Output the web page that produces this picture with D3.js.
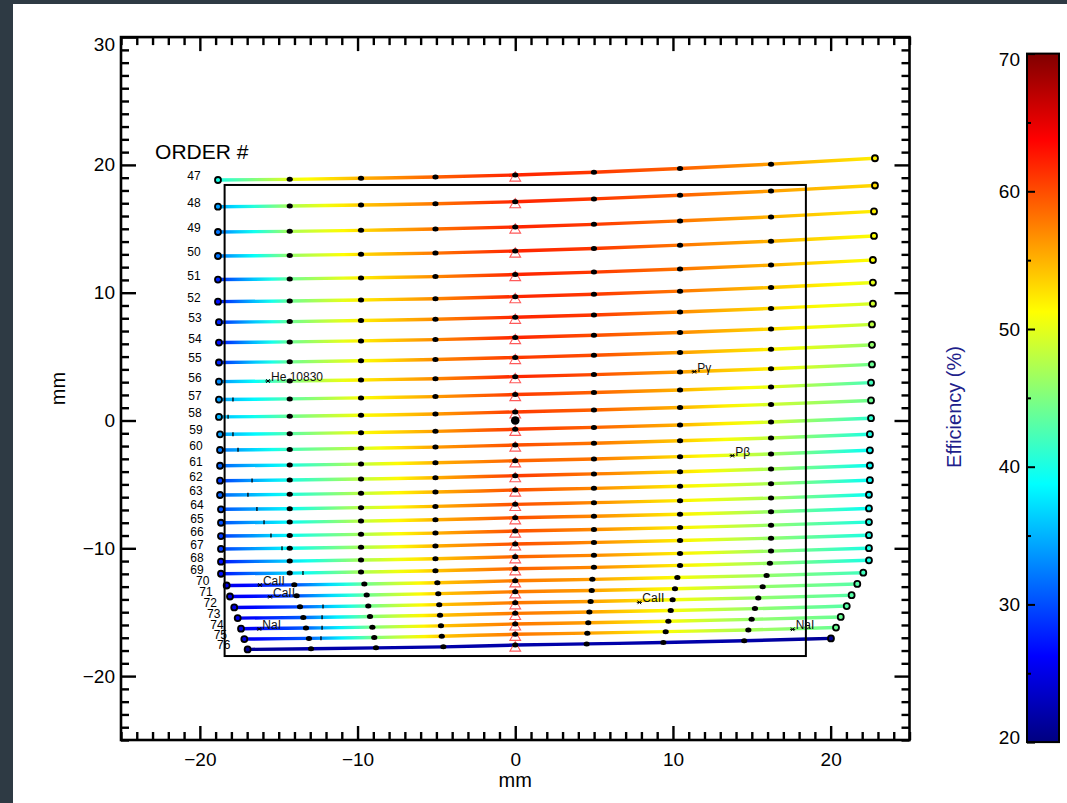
<!DOCTYPE html>
<html>
<head>
<meta charset="utf-8">
<script src="https://cdn.jsdelivr.net/npm/d3@7"></script>
<style>
body { margin: 0; background: #2e3a44; }
svg { display: block; font-family: "Liberation Sans", Arial, Helvetica, sans-serif; }
</style>
</head>
<body>
<svg id="chart" width="1067" height="803"></svg>
<script>
// Echelle orders
var orders = [47,48,49,50,51,52,53,54,55,56,57,58,59,60,61,62,63,64,65,66,67,68,69,70,71,72,73,74,75,76];

// x (mm) of the sampled points along each order
var dotX = [
  [-18.85,-14.30,-9.78,-5.06,0,4.99,10.45,16.22,22.81],
  [-18.85,-14.30,-9.78,-5.06,0,4.99,10.45,16.22,22.81],
  [-18.85,-14.30,-9.78,-5.06,0,4.99,10.45,16.22,22.75],
  [-18.85,-14.30,-9.78,-5.06,0,4.99,10.45,16.22,22.75],
  [-18.85,-14.30,-9.78,-5.06,0,4.99,10.45,16.22,22.68],
  [-18.85,-14.30,-9.78,-5.06,0,4.99,10.45,16.22,22.68],
  [-18.79,-14.30,-9.78,-5.06,0,4.99,10.45,16.22,22.68],
  [-18.79,-14.30,-9.78,-5.06,0,4.99,10.45,16.22,22.62],
  [-18.79,-14.30,-9.78,-5.06,0,4.99,10.45,16.22,22.62],
  [-18.79,-14.30,-9.78,-5.06,0,4.99,10.45,16.22,22.62],
  [-18.79,-14.30,-9.78,-5.06,0,4.99,10.45,16.22,22.56],
  [-18.79,-14.30,-9.78,-5.06,0,4.99,10.45,16.22,22.56],
  [-18.72,-14.30,-9.78,-5.06,0,4.99,10.45,16.22,22.56],
  [-18.72,-14.30,-9.78,-5.06,0,4.99,10.45,16.22,22.49],
  [-18.72,-14.30,-9.78,-5.06,0,4.99,10.45,16.22,22.49],
  [-18.72,-14.30,-9.78,-5.06,0,4.99,10.45,16.22,22.49],
  [-18.72,-14.30,-9.78,-5.06,0,4.99,10.45,16.22,22.49],
  [-18.66,-14.30,-9.78,-5.06,0,4.99,10.45,16.22,22.43],
  [-18.66,-14.30,-9.78,-5.06,0,4.99,10.45,16.22,22.43],
  [-18.66,-14.30,-9.78,-5.06,0,4.99,10.45,16.22,22.43],
  [-18.66,-14.30,-9.78,-5.06,0,4.99,10.45,16.22,22.43],
  [-18.66,-14.30,-9.78,-5.06,0,4.99,10.45,16.22,22.43],
  [-18.66,-14.30,-9.78,-5.06,0,4.99,10.45,16.15,22.43],
  [-18.30,-14.01,-9.57,-4.94,0,4.89,10.28,15.94,22.07],
  [-18.09,-13.86,-9.42,-4.88,0,4.85,10.13,15.69,21.69],
  [-17.82,-13.65,-9.32,-4.82,0,4.78,9.98,15.41,21.33],
  [-17.60,-13.44,-9.21,-4.77,0,4.70,9.86,15.20,21.02],
  [-17.39,-13.27,-9.06,-4.71,0,4.63,9.71,14.99,20.64],
  [-17.18,-13.08,-8.94,-4.66,0,4.57,9.54,14.78,20.34],
  [-16.97,-12.95,-8.83,-4.56,0,4.53,9.39,14.52,20.02]
];

// y (mm) of the sampled points along each order
var dotY = [
  [18.82,18.87,18.95,19.05,19.21,19.43,19.72,20.06,20.52],
  [16.73,16.78,16.86,16.96,17.12,17.34,17.62,17.95,18.39],
  [14.75,14.80,14.88,14.98,15.14,15.35,15.62,15.93,16.36],
  [12.87,12.92,13.00,13.10,13.26,13.46,13.72,14.03,14.44],
  [11.03,11.08,11.16,11.26,11.42,11.61,11.86,12.16,12.56],
  [9.30,9.35,9.43,9.53,9.69,9.88,10.12,10.41,10.79],
  [7.69,7.74,7.82,7.92,8.08,8.26,8.49,8.77,9.14],
  [6.10,6.15,6.23,6.33,6.49,6.67,6.89,7.16,7.52],
  [4.54,4.59,4.67,4.77,4.93,5.10,5.32,5.57,5.92],
  [3.04,3.09,3.17,3.27,3.43,3.59,3.80,4.05,4.39],
  [1.64,1.69,1.77,1.87,2.03,2.19,2.39,2.63,2.96],
  [0.28,0.33,0.41,0.51,0.67,0.82,1.02,1.26,1.57],
  [-1.08,-1.03,-0.95,-0.85,-0.69,-0.54,-0.35,-0.12,0.18],
  [-2.31,-2.26,-2.18,-2.08,-1.92,-1.78,-1.59,-1.37,-1.07],
  [-3.54,-3.49,-3.41,-3.31,-3.15,-3.01,-2.83,-2.62,-2.33],
  [-4.71,-4.66,-4.58,-4.48,-4.32,-4.18,-4.01,-3.80,-3.52],
  [-5.83,-5.78,-5.70,-5.60,-5.44,-5.31,-5.14,-4.94,-4.67],
  [-6.95,-6.90,-6.82,-6.72,-6.56,-6.43,-6.27,-6.07,-5.81],
  [-8.00,-7.95,-7.87,-7.77,-7.61,-7.49,-7.33,-7.14,-6.88],
  [-9.04,-8.99,-8.91,-8.81,-8.65,-8.53,-8.38,-8.19,-7.95],
  [-10.05,-10.00,-9.92,-9.82,-9.66,-9.54,-9.39,-9.21,-8.97],
  [-11.05,-11.00,-10.92,-10.82,-10.66,-10.55,-10.40,-10.22,-9.99],
  [-11.99,-11.94,-11.86,-11.76,-11.60,-11.49,-11.34,-11.17,-10.94],
  [-12.91,-12.86,-12.79,-12.69,-12.54,-12.43,-12.29,-12.13,-11.91],
  [-13.77,-13.72,-13.65,-13.55,-13.40,-13.30,-13.16,-13.00,-12.79],
  [-14.63,-14.58,-14.51,-14.41,-14.26,-14.16,-14.03,-13.88,-13.67],
  [-15.46,-15.41,-15.34,-15.24,-15.09,-14.99,-14.87,-14.72,-14.52],
  [-16.29,-16.24,-16.17,-16.07,-15.92,-15.83,-15.71,-15.56,-15.37],
  [-17.10,-17.05,-16.98,-16.88,-16.73,-16.64,-16.52,-16.39,-16.20],
  [-17.91,-17.86,-17.79,-17.71,-17.57,-17.48,-17.37,-17.23,-17.05]
];

// efficiency (%) at each sampled point
var dotEff = [
  [40,50,55,59,62,61,59,56,52],
  [34,47,54,58,62,61,59,56,53],
  [32,47,53,58,62,61,58,55,52],
  [32,46,53,58,62,61,58,55,51],
  [28,44,52,57,62,61,58,55,51],
  [27,44,52,57,62,61,58,54,50],
  [28,44,52,57,62,61,57,53,49],
  [27,44,52,57,62,60,57,53,48],
  [28,44,51,57,61,60,56,52,46],
  [33,45,52,57,62,60,56,52,44],
  [34,43,51,56,61,59,55,50,42],
  [35,44,51,56,61,59,55,49,44],
  [34,43,51,56,61,59,55,49,41],
  [32,42,49,56,60,58,54,48,40],
  [31,40,48,55,59,58,53,47,39],
  [29,40,48,55,61,58,53,47,39],
  [31,40,48,55,60,57,52,47,39],
  [30,39,48,55,60,57,52,47,39],
  [30,39,48,55,60,57,52,46,39],
  [29,39,47,55,60,57,52,46,40],
  [29,39,47,55,60,57,52,46,40],
  [27,37,47,54,59,57,52,46,40],
  [27,37,47,54,59,57,52,46,40],
  [25,30,44,54,58,56,51,46,42],
  [25,30,44,54,58,56,51,46,43],
  [25,30,44,54,58,56,51,46,43],
  [25,31,45,54,58,56,51,46,43],
  [25,31,45,54,58,56,51,46,44],
  [25,31,45,54,58,56,51,47,44],
  [21,22,22,22,22,22,22,22,21]
];

// small marks on some orders: [order, x mm]
var blazeMarks = [[57,-17.90],[58,-18.21],[59,-17.90],[60,-17.58],[62,-16.69],[63,-16.95],[64,-16.38],
  [65,-15.93],[66,-15.49],[67,-14.79],[69,-13.46],[72,-12.19],[73,-12.25],[74,-12.25],[75,-12.32]];

// spectral line markers
var lineNames = ["He 10830","P\u03b3","P\u03b2","CaII","CaII","NaI","CaII","NaI"];
var lineX = [-15.68,11.35,13.76,-16.19,-15.55,-16.23,7.87,17.59];
var lineY = [3.09,3.82,-2.75,-12.87,-13.79,-16.31,-14.23,-16.34];

var xMajor = [-20,-10,0,10,20];
var yMajor = [-20,-10,0,10,20,30];
var cbMajor = [20,30,40,50,60,70];
var cbMinor = [25,35,45,55,65];
var detHalf = 18.43;

var W = 1067, H = 803;
var svg = d3.select("#chart");
svg.append("rect").attr("x", 13).attr("y", 4).attr("width", W - 13).attr("height", H - 4).attr("fill", "#fff");

var x = d3.scaleLinear().domain([-25, 25]).range([121, 909.5]);
var y = d3.scaleLinear().domain([-25, 30]).range([740, 37.1]);
var cb = d3.scaleLinear().domain([20, 70]).range([742.1, 53.6]);

var jetStops = [20, 26.25, 38.75, 51.25, 63.75, 70];
var jet = d3.scaleLinear().domain(jetStops)
  .range(["#000080", "#0000ff", "#00ffff", "#ffff00", "#ff0000", "#800000"]).clamp(true);

var defs = svg.append("defs");

// gradient along each order
orders.forEach(function(m, i) {
  var xs = dotX[i], es = dotEff[i];
  var x0 = x(xs[0]), x1 = x(xs[xs.length - 1]);
  var g = defs.append("linearGradient").attr("id", "ord" + m)
    .attr("gradientUnits", "userSpaceOnUse")
    .attr("x1", x0).attr("x2", x1).attr("y1", 0).attr("y2", 0);
  for (var k = 0; k < xs.length - 1; k++) {
    for (var s = 0; s < 4; s++) {
      var t = s / 4;
      var px = x(xs[k] + (xs[k + 1] - xs[k]) * t);
      var e = es[k] + (es[k + 1] - es[k]) * t;
      g.append("stop").attr("offset", (px - x0) / (x1 - x0)).attr("stop-color", jet(e));
    }
  }
  g.append("stop").attr("offset", 1).attr("stop-color", jet(es[es.length - 1]));
});

var line = d3.line().x(function(d) { return x(d[0]); }).y(function(d) { return y(d[1]); })
  .curve(d3.curveMonotoneX);

var plot = svg.append("g");

// order lines
orders.forEach(function(m, i) {
  plot.append("path").attr("d", line(d3.zip(dotX[i], dotY[i])))
    .attr("fill", "none").attr("stroke", "url(#ord" + m + ")")
    .attr("stroke-width", 3.4).attr("stroke-linecap", "round");
});

// small marks
blazeMarks.forEach(function(b) {
  var i = orders.indexOf(b[0]);
  var onLine = d3.scaleLinear().domain(dotX[i]).range(dotY[i]);
  var py = y(onLine(b[1]));
  plot.append("line").attr("x1", x(b[1])).attr("x2", x(b[1]))
    .attr("y1", py - 2).attr("y2", py + 2).attr("stroke", "#000").attr("stroke-width", 1.3);
});

// red triangles at x = 0
var tri = d3.symbol().type(d3.symbolTriangle).size(50);
orders.forEach(function(m, i) {
  plot.append("path").attr("d", tri())
    .attr("transform", "translate(" + x(dotX[i][4]) + "," + (y(dotY[i][4]) + 3) + ")")
    .attr("fill", "none").attr("stroke", "#ff5a5a").attr("stroke-width", 1.1);
});

// sample dots
orders.forEach(function(m, i) {
  var n = dotX[i].length;
  dotX[i].forEach(function(dx, k) {
    if (k === 0 || k === n - 1) {
      plot.append("circle").attr("cx", x(dx)).attr("cy", y(dotY[i][k])).attr("r", 3)
        .attr("fill", jet(dotEff[i][k])).attr("stroke", "#000").attr("stroke-width", 1.8);
    } else {
      plot.append("ellipse").attr("cx", x(dx)).attr("cy", y(dotY[i][k]))
        .attr("rx", 3.1).attr("ry", 2.5).attr("fill", "#000");
    }
  });
  // order number
  plot.append("text").attr("x", x(dotX[i][0]) - 24).attr("y", y(dotY[i][0]))
    .attr("text-anchor", "middle").attr("font-size", 12).attr("fill", "#000").text(m);
});

// optical centre
plot.append("circle").attr("cx", x(0)).attr("cy", y(0)).attr("r", 4.3).attr("fill", "#000");

// detector outline
plot.append("rect").attr("x", x(-detHalf)).attr("y", y(detHalf))
  .attr("width", x(detHalf) - x(-detHalf)).attr("height", y(-detHalf) - y(detHalf))
  .attr("fill", "none").attr("stroke", "#000").attr("stroke-width", 2);

// spectral line markers
lineNames.forEach(function(name, i) {
  var px = x(lineX[i]), py = y(lineY[i]);
  plot.append("path")
    .attr("d", "M" + (px - 2.6) + "," + py + "H" + (px + 2.6) +
      "M" + (px - 1.8) + "," + (py - 1.8) + "L" + (px + 1.8) + "," + (py + 1.8) +
      "M" + (px - 1.8) + "," + (py + 1.8) + "L" + (px + 1.8) + "," + (py - 1.8))
    .attr("stroke", "#000").attr("stroke-width", 1);
  plot.append("text").attr("x", px + 3).attr("y", py).attr("font-size", 12)
    .attr("fill", "#111").text(name);
});

plot.append("text").attr("x", x(-22.84)).attr("y", y(20.44)).attr("font-size", 21)
  .attr("fill", "#000").text("ORDER #");

// axes
function styleAxis(g, fs) {
  g.select(".domain").remove();
  g.selectAll(".tick line").attr("stroke", "#000").attr("stroke-width", 2.4);
  g.selectAll("text").attr("font-size", fs).attr("font-family", "Liberation Sans, Arial, sans-serif").attr("fill", "#000");
}
var minorX = d3.range(-25, 26).filter(function(v) { return v % 10 !== 0; });
var minorY = d3.range(-25, 31).filter(function(v) { return v % 10 !== 0; });

var axB = svg.append("g").attr("transform", "translate(0," + y(-25) + ")")
  .call(d3.axisBottom(x).tickValues(xMajor).tickSize(-14).tickSizeOuter(0).tickPadding(13));
styleAxis(axB, 19);
styleAxis(svg.append("g").attr("transform", "translate(0," + y(-25) + ")")
  .call(d3.axisBottom(x).tickValues(minorX).tickSize(-8).tickSizeOuter(0).tickFormat("")), 19);
styleAxis(svg.append("g").attr("transform", "translate(0," + y(30) + ")")
  .call(d3.axisTop(x).tickValues(xMajor).tickSize(-14).tickSizeOuter(0).tickFormat("")), 19);
styleAxis(svg.append("g").attr("transform", "translate(0," + y(30) + ")")
  .call(d3.axisTop(x).tickValues(minorX).tickSize(-8).tickSizeOuter(0).tickFormat("")), 19);

var axL = svg.append("g").attr("transform", "translate(" + x(-25) + ",0)")
  .call(d3.axisLeft(y).tickValues(yMajor).tickSize(-15).tickSizeOuter(0).tickPadding(6));
styleAxis(axL, 19);
axL.selectAll(".tick text").filter(function(d) { return d === 30; }).attr("dy", "0.71em");
styleAxis(svg.append("g").attr("transform", "translate(" + x(-25) + ",0)")
  .call(d3.axisLeft(y).tickValues(minorY).tickSize(-8).tickSizeOuter(0).tickFormat("")), 19);
styleAxis(svg.append("g").attr("transform", "translate(" + x(25) + ",0)")
  .call(d3.axisRight(y).tickValues(yMajor).tickSize(-15).tickSizeOuter(0).tickFormat("")), 19);
styleAxis(svg.append("g").attr("transform", "translate(" + x(25) + ",0)")
  .call(d3.axisRight(y).tickValues(minorY).tickSize(-8).tickSizeOuter(0).tickFormat("")), 19);

svg.append("rect").attr("x", x(-25)).attr("y", y(30))
  .attr("width", x(25) - x(-25)).attr("height", y(-25) - y(30))
  .attr("fill", "none").attr("stroke", "#000").attr("stroke-width", 2.6);

svg.append("text").attr("x", x(0)).attr("y", 787).attr("text-anchor", "middle")
  .attr("font-size", 20).attr("fill", "#000").text("mm");
svg.append("text").attr("transform", "translate(65," + y(2.5) + ") rotate(-90)")
  .attr("text-anchor", "middle").attr("font-size", 20).attr("fill", "#000").text("mm");

// colour bar
var cbGrad = defs.append("linearGradient").attr("id", "cbar")
  .attr("x1", 0).attr("y1", 1).attr("x2", 0).attr("y2", 0);
jetStops.forEach(function(v) {
  cbGrad.append("stop").attr("offset", (v - 20) / 50).attr("stop-color", jet(v));
});
var cbX = 1027, cbW = 32;
svg.append("rect").attr("x", cbX).attr("y", cb(70)).attr("width", cbW).attr("height", cb(20) - cb(70))
  .attr("fill", "url(#cbar)");
var axC = svg.append("g").attr("transform", "translate(" + cbX + ",0)")
  .call(d3.axisLeft(cb).tickValues(cbMajor).tickSize(-8).tickSizeOuter(0).tickPadding(7));
styleAxis(axC, 19);
axC.selectAll(".tick line").attr("stroke-width", 2);
axC.selectAll(".tick text").filter(function(d) { return d === 70; }).attr("dy", "0.6em");
axC.selectAll(".tick text").filter(function(d) { return d === 20; }).attr("dy", "0.08em");
var axC2 = svg.append("g").attr("transform", "translate(" + cbX + ",0)")
  .call(d3.axisLeft(cb).tickValues(cbMinor).tickSize(-4).tickSizeOuter(0).tickFormat(""));
styleAxis(axC2, 19);
axC2.selectAll(".tick line").attr("stroke-width", 2);
svg.append("rect").attr("x", cbX).attr("y", cb(70)).attr("width", cbW).attr("height", cb(20) - cb(70))
  .attr("fill", "none").attr("stroke", "#000").attr("stroke-width", 2);

svg.append("text").attr("transform", "translate(960.5,407) rotate(-90)")
  .attr("text-anchor", "middle").attr("font-size", 20).attr("fill", "#1f1f8c")
  .text("Efficiency (%)");
</script>
</body>
</html>
